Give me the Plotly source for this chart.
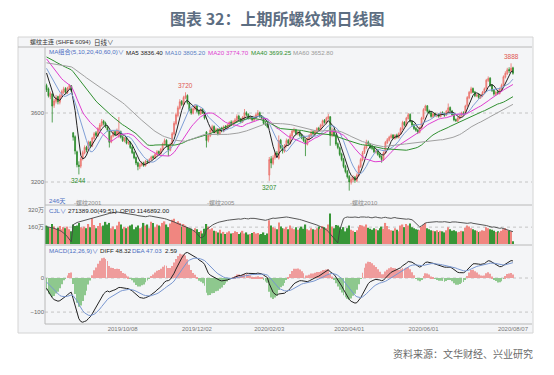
import numpy as np
import pandas as pd
import plotly.graph_objects as go

W, H = 554, 375

# ---------------- data ----------------
# warm-up closes before the first visible day (estimated from where the MA lines start)
warmup_close = [3780, 3800, 3770, 3790, 3820, 3810, 3840, 3830, 3800, 3820,
                3850, 3830, 3810, 3840, 3860, 3820, 3800, 3830, 3850, 3810,
                3880, 3900, 3920, 3910, 3940, 3960, 3930, 3950, 3970, 3940,
                3920, 3950, 3960, 3930, 3910, 3940, 3960, 3950, 3930, 3900,
                3960, 3990, 4000, 3980, 3970, 3990, 3960, 3950, 3970, 3940,
                3930, 3910, 3900, 3870, 3870, 3880, 3860, 3870, 3845, 3850]

open_ = [3760, 3740, 3695, 3710, 3645, 3668, 3695, 3662, 3698, 3720,
         3742, 3718, 3742, 3758, 3485, 3462, 3375, 3298, 3292, 3338,
         3368, 3402, 3388, 3432, 3408, 3452, 3485, 3468, 3505, 3528,
         3552, 3542, 3518, 3498, 3432, 3466, 3492, 3474, 3465, 3492,
         3462, 3438, 3458, 3424, 3432, 3402, 3372, 3342, 3312, 3288,
         3298, 3312, 3294, 3322, 3312, 3330, 3348, 3338, 3358, 3378,
         3362, 3388, 3418, 3442, 3412, 3384, 3418, 3478, 3538, 3585,
         3628, 3668, 3648, 3688, 3702, 3658, 3622, 3598, 3622, 3642,
         3612, 3594, 3622, 3602, 3490, 3442, 3468, 3498, 3522, 3488,
         3506, 3478, 3512, 3494, 3522, 3512, 3528, 3548, 3532, 3548,
         3558, 3582, 3566, 3548, 3572, 3602, 3592, 3568, 3578, 3558,
         3572, 3588, 3602, 3582, 3568, 3542, 3538, 3240, 3335, 3308,
         3342, 3368, 3338, 3442, 3402, 3378, 3408, 3442, 3422, 3468,
         3492, 3502, 3478, 3492, 3472, 3458, 3442, 3418, 3448, 3468,
         3492, 3478, 3494, 3512, 3502, 3528, 3558, 3542, 3568, 3578,
         3468, 3502, 3472, 3422, 3398, 3362, 3332, 3292, 3262, 3232,
         3198, 3212, 3228, 3208, 3238, 3288, 3328, 3372, 3398, 3432,
         3418, 3402, 3398, 3372, 3382, 3362, 3348, 3328, 3368, 3428,
         3442, 3458, 3472, 3452, 3472, 3458, 3478, 3508, 3548, 3528,
         3568, 3592, 3552, 3532, 3512, 3502, 3488, 3512, 3568, 3618,
         3642, 3612, 3602, 3578, 3598, 3582, 3592, 3578, 3602, 3598,
         3588, 3608, 3632, 3612, 3592, 3562, 3552, 3568, 3582, 3602,
         3598, 3642, 3688, 3718, 3742, 3722, 3698, 3708, 3688, 3698,
         3718, 3742, 3788, 3802, 3762, 3732, 3708, 3722, 3712, 3738,
         3758, 3808, 3828, 3852, 3842, 3862]

high = [3770, 3748, 3725, 3715, 3682, 3705, 3700, 3712, 3735, 3752,
        3750, 3752, 3768, 3762, 3490, 3470, 3382, 3320, 3345, 3382,
        3412, 3410, 3440, 3438, 3462, 3490, 3495, 3518, 3542, 3565,
        3560, 3550, 3525, 3502, 3472, 3500, 3498, 3510, 3577, 3498,
        3470, 3462, 3462, 3440, 3436, 3408, 3378, 3348, 3318, 3310,
        3320, 3318, 3328, 3330, 3338, 3352, 3355, 3368, 3385, 3382,
        3398, 3428, 3452, 3448, 3418, 3428, 3490, 3552, 3602, 3642,
        3680, 3675, 3700, 3720, 3708, 3665, 3630, 3635, 3650, 3648,
        3620, 3628, 3628, 3608, 3495, 3480, 3510, 3532, 3528, 3515,
        3512, 3518, 3520, 3528, 3530, 3538, 3552, 3558, 3558, 3570,
        3592, 3590, 3572, 3582, 3623, 3610, 3598, 3585, 3582, 3585,
        3598, 3617, 3608, 3588, 3572, 3550, 3545, 3345, 3350, 3355,
        3375, 3380, 3470, 3450, 3415, 3420, 3452, 3450, 3482, 3505,
        3515, 3508, 3498, 3498, 3480, 3465, 3448, 3458, 3478, 3500,
        3498, 3502, 3518, 3520, 3538, 3562, 3565, 3578, 3595, 3582,
        3515, 3510, 3478, 3430, 3405, 3370, 3340, 3300, 3270, 3240,
        3230, 3240, 3235, 3250, 3300, 3340, 3380, 3412, 3445, 3440,
        3425, 3412, 3405, 3388, 3390, 3370, 3355, 3378, 3438, 3455,
        3468, 3480, 3478, 3478, 3480, 3488, 3518, 3555, 3552, 3578,
        3600, 3598, 3558, 3538, 3518, 3508, 3522, 3578, 3628, 3648,
        3645, 3620, 3608, 3602, 3602, 3598, 3598, 3608, 3610, 3602,
        3618, 3655, 3638, 3618, 3595, 3568, 3578, 3592, 3608, 3610,
        3648, 3698, 3728, 3752, 3748, 3728, 3712, 3715, 3708, 3728,
        3748, 3798, 3812, 3808, 3768, 3740, 3728, 3730, 3748, 3770,
        3818, 3842, 3862, 3865, 3888, 3868]

low = [3722, 3690, 3680, 3545, 3630, 3655, 3650, 3650, 3690, 3710,
       3712, 3710, 3735, 3722, 3440, 3360, 3285, 3244, 3280, 3325,
       3360, 3372, 3380, 3400, 3402, 3445, 3460, 3462, 3498, 3520,
       3528, 3512, 3492, 3400, 3425, 3458, 3465, 3468, 3455, 3452,
       3432, 3430, 3418, 3415, 3392, 3362, 3332, 3298, 3268, 3275,
       3290, 3288, 3290, 3305, 3308, 3325, 3332, 3335, 3352, 3358,
       3358, 3382, 3410, 3402, 3350, 3378, 3412, 3470, 3528, 3575,
       3620, 3640, 3642, 3680, 3650, 3610, 3590, 3592, 3615, 3602,
       3585, 3588, 3595, 3562, 3400, 3430, 3460, 3490, 3482, 3480,
       3470, 3472, 3488, 3488, 3505, 3505, 3520, 3528, 3525, 3540,
       3550, 3558, 3540, 3542, 3565, 3582, 3562, 3560, 3550, 3552,
       3565, 3580, 3572, 3562, 3535, 3525, 3512, 3207, 3280, 3298,
       3330, 3345, 3330, 3390, 3365, 3370, 3400, 3415, 3418, 3460,
       3485, 3472, 3470, 3462, 3448, 3432, 3350, 3412, 3440, 3462,
       3472, 3470, 3488, 3495, 3498, 3522, 3538, 3535, 3560, 3410,
       3460, 3462, 3410, 3390, 3350, 3320, 3280, 3250, 3220, 3150,
       3185, 3200, 3195, 3200, 3232, 3282, 3320, 3362, 3390, 3410,
       3392, 3385, 3368, 3365, 3352, 3338, 3312, 3322, 3362, 3420,
       3435, 3450, 3448, 3445, 3452, 3452, 3472, 3502, 3522, 3522,
       3562, 3545, 3522, 3502, 3492, 3478, 3482, 3508, 3562, 3610,
       3600, 3592, 3572, 3572, 3578, 3575, 3572, 3575, 3588, 3578,
       3582, 3602, 3608, 3585, 3552, 3548, 3548, 3562, 3578, 3588,
       3592, 3635, 3680, 3710, 3715, 3692, 3692, 3682, 3682, 3692,
       3710, 3735, 3780, 3752, 3722, 3700, 3700, 3705, 3708, 3732,
       3752, 3800, 3820, 3832, 3838, 3822]

close = [3735, 3700, 3715, 3640, 3670, 3690, 3665, 3700, 3725, 3740,
         3720, 3745, 3760, 3730, 3460, 3380, 3300, 3290, 3335, 3370,
         3400, 3385, 3430, 3410, 3455, 3480, 3470, 3510, 3530, 3550,
         3540, 3520, 3500, 3430, 3465, 3490, 3475, 3500, 3495, 3460,
         3440, 3455, 3425, 3430, 3400, 3370, 3340, 3310, 3290, 3300,
         3310, 3295, 3320, 3315, 3330, 3345, 3340, 3360, 3375, 3365,
         3390, 3420, 3440, 3410, 3385, 3420, 3480, 3540, 3590, 3630,
         3665, 3650, 3690, 3700, 3660, 3620, 3600, 3625, 3640, 3610,
         3595, 3620, 3600, 3570, 3440, 3470, 3500, 3520, 3490, 3505,
         3480, 3510, 3495, 3520, 3515, 3530, 3545, 3535, 3550, 3560,
         3580, 3565, 3550, 3575, 3600, 3590, 3570, 3575, 3560, 3575,
         3590, 3600, 3580, 3570, 3540, 3535, 3520, 3330, 3310, 3340,
         3365, 3360, 3440, 3400, 3380, 3410, 3440, 3425, 3470, 3495,
         3500, 3480, 3490, 3470, 3455, 3440, 3420, 3450, 3470, 3490,
         3480, 3495, 3510, 3505, 3530, 3555, 3545, 3570, 3580, 3470,
         3500, 3470, 3420, 3400, 3360, 3330, 3290, 3260, 3230, 3200,
         3215, 3225, 3210, 3240, 3290, 3330, 3370, 3400, 3430, 3420,
         3400, 3395, 3375, 3380, 3360, 3345, 3330, 3370, 3430, 3445,
         3460, 3470, 3455, 3470, 3460, 3480, 3510, 3545, 3530, 3570,
         3590, 3550, 3530, 3510, 3500, 3490, 3515, 3570, 3620, 3640,
         3610, 3600, 3580, 3595, 3585, 3590, 3580, 3600, 3595, 3585,
         3610, 3630, 3615, 3590, 3560, 3555, 3570, 3585, 3600, 3595,
         3640, 3690, 3720, 3740, 3720, 3700, 3705, 3690, 3700, 3720,
         3740, 3790, 3800, 3760, 3730, 3710, 3720, 3715, 3740, 3760,
         3810, 3830, 3850, 3845, 3860, 3830]

# volume (万手)
volume_wan = [175, 160, 150, 190, 165, 145, 155, 170, 140, 160,
              150, 165, 140, 120, 185, 170, 175, 200, 160, 150,
              165, 150, 190, 160, 245, 180, 150, 170, 200, 165,
              175, 210, 185, 200, 150, 165, 140, 175, 210, 185,
              145, 160, 150, 165, 175, 185, 140, 160, 175, 150,
              160, 200, 175, 185, 150, 210, 200, 160, 185, 175,
              165, 200, 215, 185, 160, 195, 230, 240, 205, 215,
              200, 165, 190, 175, 160, 150, 145, 130, 150, 140,
              115, 125, 100, 145, 190, 165, 140, 150, 125, 120,
              110, 135, 100, 115, 95, 110, 120, 100, 105, 120,
              115, 95, 110, 125, 100, 110, 90, 95, 105, 115,
              100, 105, 90, 95, 110, 85, 100, 225, 175, 160,
              150, 140, 205, 165, 150, 145, 160, 140, 175, 150,
              140, 160, 135, 150, 165, 145, 185, 140, 130, 150,
              140, 135, 150, 165, 145, 170, 160, 150, 185, 290,
              165, 150, 180, 175, 160, 140, 160, 120, 150, 175,
              135, 125, 115, 130, 160, 180, 175, 165, 185, 155,
              145, 135, 150, 140, 130, 150, 165, 145, 200, 170,
              140, 130, 125, 150, 135, 120, 175, 185, 160, 190,
              175, 195, 160, 150, 140, 135, 130, 165, 180, 200,
              150, 140, 130, 125, 120, 130, 115, 125, 120, 110,
              130, 160, 140, 125, 130, 120, 110, 115, 125, 120,
              155, 175, 165, 150, 140, 130, 125, 115, 120, 130,
              125, 160, 150, 140, 135, 125, 115, 120, 110, 125,
              140, 150, 130, 125, 120, 27]

# open interest (万手)
oi_wan = [133, 132, 130, 128, 127, 124, 122, 119, 115, 110, 104, 96, 88, 78,
          140, 145, 148, 150, 152, 153, 155, 158, 160, 162, 165, 167, 168, 170, 172, 175,
          177, 178, 180, 181, 182, 184, 185, 186, 185, 184, 183, 182, 180, 181, 179, 178, 176, 175, 173, 172,
          170, 171, 169, 170, 172, 171, 170, 169, 168, 166, 165, 163, 162, 160, 158, 156, 152, 150, 147, 143,
          140, 138, 135, 133, 130, 127, 124, 120, 115, 108, 100, 92, 95, 100,
          122, 128, 133, 138, 142, 146, 148, 150, 152, 153, 155, 156, 157, 158, 159, 158,
          160, 161, 160, 162, 163, 162, 161, 163, 164, 163, 162, 161, 160, 158, 157, 156, 158, 160, 162, 164,
          163, 164, 165, 166, 167, 168, 168, 167, 166, 165, 163, 162, 160, 159, 157, 155, 153, 151, 149, 147,
          145, 142, 139, 136, 133, 130, 127, 122, 115, 106, 98, 90, 82, 74, 120, 140, 162, 166, 168, 167,
          166, 167, 168, 167, 166, 168, 169, 168, 167, 168, 166, 165, 167, 168, 166, 165, 164, 166, 167, 165,
          164, 163, 165, 166, 164, 163, 162, 163, 161, 160,
          161, 160, 158, 152, 145, 138, 132, 136, 142, 146, 148, 149, 150, 149, 150, 151, 150, 149, 150, 151,
          150, 149, 148, 150, 151, 150, 149, 148, 147, 148, 146, 145, 146, 147, 145, 144, 143, 142, 140, 141,
          139, 137, 135, 133, 131, 132, 130, 129, 127, 128, 126, 124, 122, 120, 118, 114.7]

date_tick_labels = ["2019/10/08", "2019/12/02", "2020/02/03", "2020/04/01", "2020/06/01", "2020/08/07"]
date_tick_idx = [40, 79, 117, 159, 198, 245]
contract_labels = ["-螺纹2001", "-螺纹2005", "-螺纹2010"]
contract_switch_idx = [14, 84, 159]
price_ticks = [3200, 3600]
vol_ticks = [160, 320]
macd_ticks = [-100, 0]
ma_periods = [5, 10, 20, 40, 60]
ma_colors = ["#222222", "#7f9fd6", "#e03ed0", "#2f8f2f", "#a0a0a0"]
extremes = [(17, "low"), (73, "high"), (117, "low"), (244, "high")]

n = len(close)
for arr in (open_, high, low, volume_wan, oi_wan):
    assert len(arr) == n, len(arr)

# ---------------- indicators ----------------
idx = np.arange(n)
full = pd.Series(warmup_close + close, dtype=float)
k = len(warmup_close)
mas = {p: full.rolling(p).mean().iloc[k:].to_numpy() for p in ma_periods}
ema12 = full.ewm(span=12, adjust=False).mean()
ema26 = full.ewm(span=26, adjust=False).mean()
dif = ema12 - ema26
dea = dif.ewm(span=9, adjust=False).mean()
hist = 2 * (dif - dea)
dif, dea, hist = dif.iloc[k:].to_numpy(), dea.iloc[k:].to_numpy(), hist.iloc[k:].to_numpy()

up = np.array(close) >= np.array(open_)

# ---------------- figure ----------------
def px(x):
    return x / W


def py(y):
    return 1 - y / H


FONT = "Liberation Sans, Noto Sans CJK SC, sans-serif"
GREEN = "#2c8c2c"

fig = go.Figure()

fig.add_trace(go.Candlestick(
    x=idx, open=open_, high=high, low=low, close=close,
    increasing=dict(line=dict(color="#ea6e68", width=0.8), fillcolor="#f5a29c"),
    decreasing=dict(line=dict(color=GREEN, width=0.8), fillcolor=GREEN),
    whiskerwidth=0, xaxis="x", yaxis="y", hoverinfo="skip", showlegend=False))

for p, c in zip(ma_periods, ma_colors):
    fig.add_trace(go.Scatter(x=idx, y=mas[p], mode="lines", line=dict(color=c, width=1),
                             xaxis="x", yaxis="y", hoverinfo="skip", showlegend=False))

fig.add_trace(go.Bar(x=idx, y=volume_wan, width=0.72,
                     marker=dict(color=np.where(up, "#f08680", "#379637").tolist(), line=dict(width=0)),
                     xaxis="x", yaxis="y2", hoverinfo="skip", showlegend=False))
fig.add_trace(go.Scatter(x=idx, y=oi_wan, mode="lines", line=dict(color="#444", width=0.9),
                         xaxis="x", yaxis="y3", hoverinfo="skip", showlegend=False))

fig.add_trace(go.Bar(x=idx, y=hist, width=0.45,
                     marker=dict(color=np.where(hist >= 0, "#ef9c9c", "#8ec88e").tolist(), line=dict(width=0)),
                     xaxis="x", yaxis="y4", hoverinfo="skip", showlegend=False))
fig.add_trace(go.Scatter(x=idx, y=dif, mode="lines", line=dict(color="#222", width=1),
                         xaxis="x", yaxis="y4", hoverinfo="skip", showlegend=False))
fig.add_trace(go.Scatter(x=idx, y=dea, mode="lines", line=dict(color="#7896d0", width=1),
                         xaxis="x", yaxis="y4", hoverinfo="skip", showlegend=False))

tickfont = dict(family=FONT, size=6, color="#666")
fig.update_layout(
    width=W, height=H, margin=dict(l=0, r=0, t=0, b=0),
    paper_bgcolor="white", plot_bgcolor="rgba(0,0,0,0)", showlegend=False,
    font=dict(family=FONT),
    xaxis=dict(domain=[px(45), px(532)], range=[-0.8, 255.0], anchor="y4",
               tickvals=date_tick_idx, ticktext=date_tick_labels, tickfont=dict(family=FONT, size=6, color="#777"),
               showgrid=False, zeroline=False, showline=False, ticks="", rangeslider=dict(visible=False)),
    yaxis=dict(domain=[py(205), py(47)], range=[3066.7, 3982.6], anchor="x",
               tickvals=price_ticks, tickfont=tickfont, showgrid=False, zeroline=False, ticks=""),
    yaxis2=dict(domain=[py(244), py(205)], range=[0, 370], anchor="x",
                tickvals=vol_ticks, ticktext=[f"{v}万" for v in vol_ticks], tickfont=tickfont,
                showgrid=False, zeroline=False, ticks=""),
    yaxis3=dict(overlaying="y2", range=[70, 211.5], visible=False),
    yaxis4=dict(domain=[py(324), py(245)], range=[-135, 97], anchor="x",
                tickvals=macd_ticks, tickfont=tickfont, showgrid=False, zeroline=False, ticks=""),
)

shapes = []
# chart frame
shapes.append(dict(type="rect", xref="paper", yref="paper", x0=px(18), x1=px(533), y0=py(333), y1=py(37),
                   fillcolor="#f4f5f7", line=dict(color="#d4d4d4", width=1), layer="below"))
# panel separators
for yy, x0 in [(47, 18), (205, 45), (245, 45), (324, 45)]:
    shapes.append(dict(type="line", xref="paper", yref="paper", x0=px(x0), x1=px(532), y0=py(yy), y1=py(yy),
                       line=dict(color="#b8b8b8", width=1)))
shapes.append(dict(type="line", xref="paper", yref="paper", x0=px(45), x1=px(45), y0=py(47), y1=py(324),
                   line=dict(color="#b8b8b8", width=1)))
# dotted grid lines
for v in price_ticks:
    shapes.append(dict(type="line", xref="paper", yref="y", x0=px(45), x1=px(532), y0=v, y1=v,
                       line=dict(color="#c4c4c4", width=1, dash="dot"), layer="below"))
shapes.append(dict(type="line", xref="paper", yref="y2", x0=px(45), x1=px(532), y0=vol_ticks[0], y1=vol_ticks[0],
                   line=dict(color="#c4c4c4", width=1, dash="dot"), layer="below"))
for v in macd_ticks:
    shapes.append(dict(type="line", xref="paper", yref="y4", x0=px(45), x1=px(532), y0=v, y1=v,
                       line=dict(color="#c4c4c4", width=1, dash="dot"), layer="below"))
fig.update_layout(shapes=shapes)

ann = []


def text(x, y, s, color="#222", size=6.2, xanchor="left", family=FONT, **kw):
    ann.append(dict(x=px(x), y=py(y), xref="paper", yref="paper", text=s, showarrow=False,
                    xanchor=xanchor, yanchor="middle", font=dict(family=family, size=size, color=color), **kw))


BLUE = "#4d6fc2"
text(277, 18, "<b>图表 32：上期所螺纹钢日线图</b>", color="#5d6e82", size=16, xanchor="center",
     family="Noto Sans CJK SC, sans-serif")
text(28, 42.5, "螺纹主连 (SHFE 6094)", color="#333", size=6)
text(92, 42.5, "日线∨", color="#333", size=6.5)
text(47, 52, "MA组合(5,10,20,40,60,0)∨", color=BLUE)
text(124, 52, "MA5 3836.40", color="#222")
text(163, 52, "MA10 3805.20", color="#5b7fc4")
text(206, 52, "MA20 3774.70", color="#e03ed0")
text(249, 52, "MA40 3699.25", color="#2f8f2f")
text(291, 52, "MA60 3652.80", color="#999")
text(47, 201, "246天", color=BLUE)
text(47, 210, "CJL∨", color=BLUE)
text(66, 210, "271389.00(49:51)", color="#222")
text(118, 210, "OPID 1146892.00", color="#222")
text(47, 250, "MACD(12,26,9)∨", color=BLUE)
text(98, 250, "DIFF 48.32", color="#222")
text(130, 250, "DEA 47.03", color=BLUE)
text(163, 250, "2.59", color="#222")
text(535, 353, "资料来源：文华财经、兴业研究", color="#6a6a6a", size=10, xanchor="right",
     family="Noto Sans CJK SC, sans-serif")

for lab, i in zip(contract_labels, contract_switch_idx):
    ann.append(dict(x=i - 0.6, y=py(203), xref="x", yref="paper", text=lab, showarrow=False,
                    xanchor="left", yanchor="middle", font=dict(family=FONT, size=6, color="#8a8a8a")))

for i, kind in extremes:
    if kind == "high":
        ann.append(dict(x=i, y=high[i], xref="x", yref="y", text=str(high[i]), showarrow=False,
                        xanchor="center", yanchor="bottom", yshift=1,
                        font=dict(family=FONT, size=6.5, color="#e05550")))
    else:
        ann.append(dict(x=i, y=low[i], xref="x", yref="y", text=str(low[i]), showarrow=False,
                        xanchor="center", yanchor="top", yshift=-1,
                        font=dict(family=FONT, size=6.5, color="#2c8c2c")))

fig.update_layout(annotations=ann)
fig.write_html("out.html", config={"displayModeBar": False},
               post_script="document.body.style.margin='0px';")
